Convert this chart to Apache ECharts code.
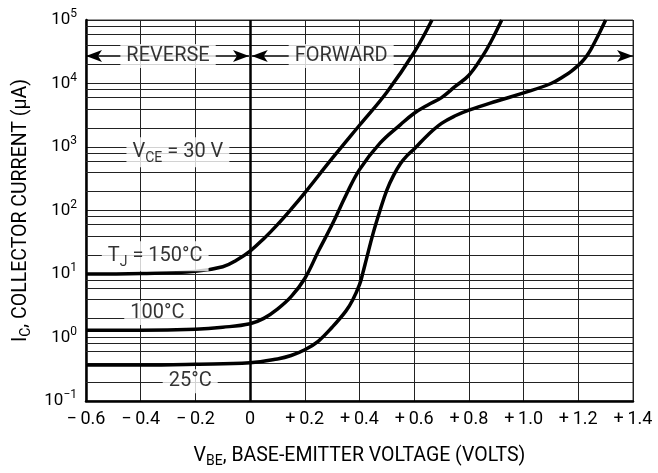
<!DOCTYPE html>
<html>
<head>
<meta charset="utf-8">
<script src="https://cdn.jsdelivr.net/npm/echarts@6/dist/echarts.min.js"></script>
<style>
  html, body { margin: 0; padding: 0; background: #fff; }
  #chart { width: 658px; height: 473px; }
</style>
</head>
<body>
<div id="chart"></div>
<script>
const FONT = "Roboto, 'Liberation Sans', sans-serif";

// curves: V_BE (volts) vs I_C (uA)
const vbe150 = [-0.6, -0.4, -0.2, -0.1, -0.05, 0, 0.05, 0.1, 0.15, 0.2, 0.3, 0.4, 0.5, 0.6, 0.665];
const ic150 = [10, 10.2, 11, 13, 16.5, 23, 36, 60, 105, 190, 660, 2200, 7300, 31000, 100000];

const vbe100 = [-0.6, -0.4, -0.2, -0.1, 0, 0.05, 0.1, 0.15, 0.2, 0.25, 0.3, 0.35, 0.4, 0.475, 0.55, 0.6, 0.65, 0.7, 0.75, 0.8, 0.85, 0.88, 0.92];
const ic100 = [1.3, 1.3, 1.35, 1.45, 1.65, 2.0, 2.8, 4.4, 8.5, 23, 60, 172, 440, 1150, 2250, 3400, 4600, 6000, 9000, 13500, 27000, 45000, 100000];

const vbe25 = [-0.6, -0.4, -0.2, 0, 0.1, 0.15, 0.2, 0.25, 0.3, 0.35, 0.375, 0.4, 0.4125, 0.425, 0.45, 0.475, 0.5, 0.525, 0.55, 0.575, 0.6, 0.65, 0.7, 0.75, 0.8, 0.9, 1.0, 1.1, 1.15, 1.175, 1.2, 1.215, 1.23, 1.245, 1.26, 1.28, 1.3];
const ic25 = [0.37, 0.37, 0.38, 0.4, 0.46, 0.52, 0.64, 0.88, 1.45, 2.6, 3.9, 6.8, 10.5, 17, 44, 100, 210, 360, 550, 740, 930, 1550, 2350, 3100, 3800, 5250, 7100, 10000, 13200, 15700, 19300, 22400, 26900, 33900, 44700, 66000, 100000];

// annotations inside the plot
const noteText = ["REVERSE", "FORWARD", "{t|V}{sub|CE}{t| = 30 V}", "{t|T}{sub|J}{t| = 150°C}", "100°C", "25°C"];
const noteX = [-0.3, 0.333, -0.264, -0.347, -0.339, -0.219];
const noteY = [27000, 27000, 830, 19.1, 2.43, 0.204];

const arrowY = 27000;
const decades = [-1, 0, 1, 2, 3, 4];
const minorSteps = [2, 4, 6, 8];

const pairs = (xs, ys) => xs.map((x, i) => [x, ys[i]]);

function fmtVolts(v) {
  const r = Math.round(v * 10) / 10;
  if (r === 0) return "0";
  return (r < 0 ? "\u2212\u2009" : "+\u2009") + Math.abs(r).toFixed(1);
}

function fmtDecade(v) {
  const e = Math.round(Math.log10(v));
  return "{b|10}{s|" + (e < 0 ? "\u2212" + -e : e) + "}";
}

const subRich = {
  t: { fontSize: 20, lineHeight: 26, fontFamily: FONT, color: "#000" },
  sub: { fontSize: 14, lineHeight: 14, verticalAlign: "bottom", fontFamily: FONT, color: "#000" },
};

const nameRich = {
  t: { fontSize: 19.5, lineHeight: 24, fontFamily: FONT, color: "#000" },
  sub: { fontSize: 14, lineHeight: 14, verticalAlign: "bottom", fontFamily: FONT, color: "#000" },
};

function curve(name, xs, ys) {
  return {
    name,
    type: "line",
    data: pairs(xs, ys),
    showSymbol: false,
    smooth: 0.4,
    lineStyle: { color: "#000", width: 3.5 },
    z: 5,
    silent: true,
  };
}

const chart = echarts.init(document.getElementById("chart"), null, { renderer: "canvas" });

chart.setOption({
  animation: false,
  backgroundColor: "#fff",
  grid: { left: 86, right: 25, top: 20, bottom: 69, show: true, borderColor: "#333", borderWidth: 1 },
  xAxis: {
    type: "value",
    min: -0.6,
    max: 1.4,
    interval: 0.2,
    axisLine: { show: true, onZero: false, lineStyle: { color: "#000", width: 2.5 } },
    axisTick: { show: false },
    splitLine: { show: true, lineStyle: { color: "#222", width: 1 } },
    axisLabel: { formatter: fmtVolts, fontSize: 18, fontFamily: FONT, color: "#000", margin: 9 },
    name: "{t|V}{sub|BE}{t|, BASE-EMITTER VOLTAGE (VOLTS)}",
    nameLocation: "middle",
    nameGap: 43,
    nameTextStyle: { rich: nameRich },
  },
  yAxis: {
    type: "log",
    logBase: 10,
    min: 0.1,
    max: 100000,
    splitNumber: 6,
    axisLine: { show: true, onZero: false, lineStyle: { color: "#000", width: 2.5 } },
    axisTick: { show: false },
    splitLine: { show: true, lineStyle: { color: "#222", width: 1 } },
    axisLabel: {
      formatter: fmtDecade,
      margin: 9,
      rich: {
        b: { fontSize: 17, lineHeight: 24, fontFamily: FONT, color: "#000" },
        s: { fontSize: 12, lineHeight: 12, verticalAlign: "top", fontFamily: FONT, color: "#000" },
      },
    },
    name: "{t|I}{sub|C}{t|, COLLECTOR CURRENT (μA)}",
    nameLocation: "middle",
    nameGap: 49,
    nameTextStyle: { rich: nameRich },
  },
  series: [
    {
      // minor grid, zero line and the region arrows
      type: "line",
      data: [],
      silent: true,
      z: 1,
      markLine: {
        silent: true,
        animation: false,
        symbol: "none",
        label: { show: false },
        lineStyle: { color: "#222", width: 1, type: "solid" },
        data: [
          ...decades.flatMap((d) => minorSteps.map((s) => ({ yAxis: s * Math.pow(10, d) }))),
          { xAxis: 0, lineStyle: { color: "#000", width: 2.5, type: "solid" } },
          [
            { coord: [-0.6, arrowY], symbol: "arrow", symbolSize: [9, 16] },
            { coord: [-0.004, arrowY], symbol: "arrow", symbolSize: [9, 16], lineStyle: { color: "#000", width: 1.5, type: "solid" } },
          ],
          [
            { coord: [0.006, arrowY], symbol: "arrow", symbolSize: [9, 16] },
            { coord: [1.4, arrowY], symbol: "arrow", symbolSize: [9, 16], lineStyle: { color: "#000", width: 1.5, type: "solid" } },
          ],
        ],
      },
    },
    curve("150", vbe150, ic150),
    curve("100", vbe100, ic100),
    curve("25", vbe25, ic25),
    {
      type: "scatter",
      data: noteX.map((x, i) => [x, noteY[i], noteText[i]]),
      symbolSize: 0,
      silent: true,
      z: 10,
      label: {
        show: true,
        position: "inside",
        formatter: (p) => p.data[2],
        fontSize: 20,
        fontFamily: FONT,
        color: "#000",
        backgroundColor: "#fff",
        padding: [2, 6],
        rich: subRich,
      },
    },
  ],
});
</script>
</body>
</html>
